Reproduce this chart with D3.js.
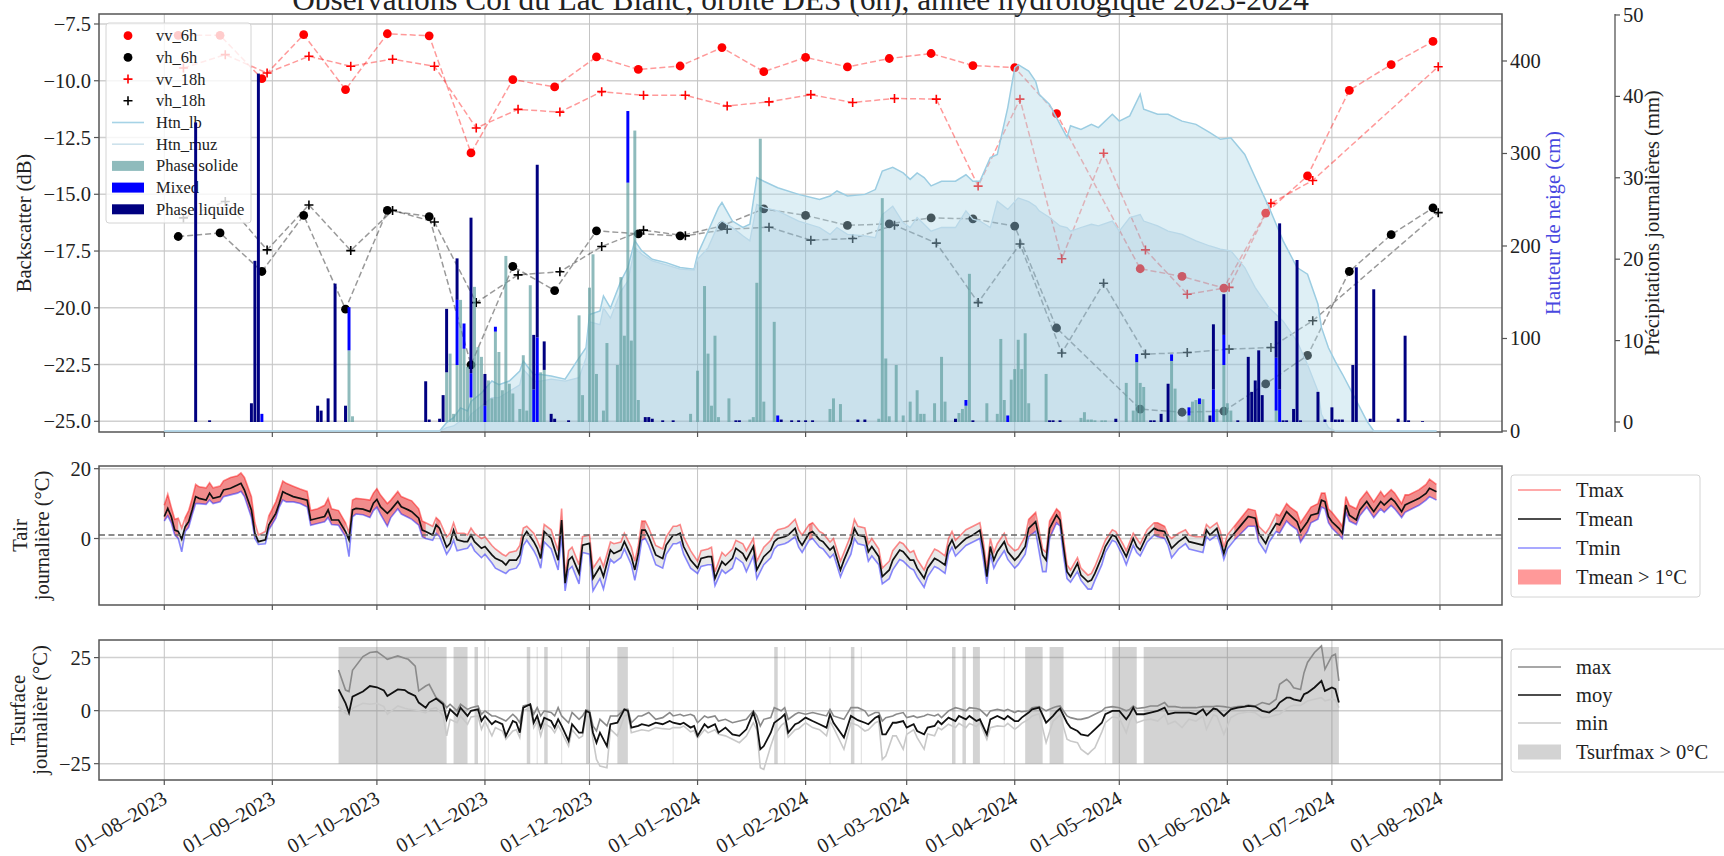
<!DOCTYPE html>
<html>
<head>
<meta charset="utf-8">
<script src="https://cdn.jsdelivr.net/npm/d3@7"></script>
<style>
  html, body { margin: 0; padding: 0; background: #fff; }
  svg { display: block; font-family: "Liberation Serif", "DejaVu Serif", serif; }
</style>
</head>
<body>
<svg id="chart" width="1724" height="856"></svg>
<script>
// ---------------------------------------------------------------------------
// Data: day offsets are counted from 1 August 2023 (hydrological year start)
// ---------------------------------------------------------------------------
const titleText = "Observations Col du Lac Blanc, orbite DES (6h), année hydrologique 2023-2024";

// Sentinel-1 backscatter (dB), morning (6h) and evening (18h) passes
const sarDays6h = [4,16,28,40,52,64,76,88,100,112,124,136,148,160,172,184,196,208,220,232,244,256,280,292,304,316,328,340,352,364];
const vv6h = [-8.0,-8.0,-9.91,-7.97,-10.39,-7.93,-8.02,-13.18,-9.95,-10.27,-8.95,-9.50,-9.35,-8.54,-9.60,-8.97,-9.39,-9.02,-8.80,-9.33,-9.42,-11.45,-18.28,-18.62,-19.13,-15.83,-14.19,-10.42,-9.29,-8.27];
const vh6h = [-16.86,-16.70,-18.40,-15.93,-20.06,-15.71,-15.98,-22.51,-18.18,-19.24,-16.61,-16.74,-16.83,-16.39,-15.64,-15.93,-16.37,-16.30,-16.04,-16.08,-16.40,-20.89,-24.46,-24.60,-24.55,-23.35,-22.10,-18.40,-16.78,-15.60];
const sarDays18h = [5.5,17.5,29.5,41.5,53.5,65.5,77.5,89.5,101.5,113.5,125.5,137.5,149.5,161.5,173.5,185.5,197.5,209.5,221.5,233.5,245.5,257.5,269.5,281.5,293.5,305.5,317.5,329.5,365.5];
const vv18h = [-9.44,-8.85,-9.66,-8.92,-9.36,-9.05,-9.36,-12.08,-11.26,-11.38,-10.48,-10.64,-10.64,-11.11,-10.93,-10.61,-10.96,-10.78,-10.81,-14.64,-10.81,-17.84,-13.19,-17.45,-19.40,-19.10,-15.40,-14.39,-9.38];
const vh18h = [-16.04,-15.32,-17.45,-15.47,-17.48,-15.71,-16.22,-19.77,-18.55,-18.41,-17.30,-16.58,-16.83,-16.54,-16.45,-17.02,-16.95,-16.36,-17.15,-19.77,-17.19,-21.99,-18.92,-22.04,-21.97,-21.82,-21.75,-20.57,-15.81];

// Snow depth (cm): [day, Htn_lb, Htn_muz]
const snowDepth = [
  [0,0,0],[79,0,0],[81,9,3.6],[83,14.4,5.4],[85,25,11],[87,21.6,11],[88,32,18],[91,41,27],[94,54,36],[96,50,36],
  [99,54,43],[102,64.8,50],[103,75.6,66.6],[106,61,54],[108,61,54],[111,59.5,56],[115,56,54],[119,79,57.7],[121,90,79],[122,126,118],
  [125,129.7,115],[126,146,133],[128,133,122],[131,162,151],[133,176.7,162],[135,205.6,198.4],[137,194.8,191],[140,185.7,184],[144,182,179.5],[148,176.7,175],
  [152,175,174],[153,191,185.7],[156,216,198],[159,241.5,223.5],[160,247,227],[163,227,220],[166,220,211],[168,223.5,205.6],[170,274,245],[172,270,241.5],
  [176,263,238],[182,255.8,227],[188,250.4,220],[191,254,212.6],[193,259.5,220],[196,254,212.6],[201,255.8,211],[204,261,209],[206,281,234],[209,285,243],
  [212,279,225],[214,272,220],[216,279,230.8],[218,274,223.5],[220,265,216],[223,270,220],[227,270,220],[230,277,238],[232,270,229],[234,270,227],
  [237,295.6,220],[239,299,248.5],[242,349.6,239.6],[244,392.8,248],[245,396,252],[248,389,248],[250,378,243],[251,364,238],[254,353,230.8],[257,331.5,221.7],
  [259,317.6,220],[260,330,216],[263,326,220],[266,331.5,223.5],[268,328,221.7],[272,342.4,227],[274,335,216],[277,340.6,230.8],[280,364,234],[281,347.8,227],
  [285,342.4,221.7],[288,342.4,216],[292,335,212.6],[296,331.5,205.6],[300,322.5,200],[303,315.3,196.6],[306,317,194.8],[310,299,176.7],[313,274,155],[317,241.5,133],
  [321,205.6,118.7],[325,176.7,97],[328,169.5,72],[331,137,43],[332,112,18],[334,90,3.6],[336,75,0],[338,61.6,0],[342,32.8,0],[345,11,0],
  [347,0,0],[365,0,0]
];

// Daily precipitation (mm): [day, solid, mixed, liquid]
const precipitation = [
  [9,0,0,36.8],[13,0,0,0.2],[25,0,0,2.3],[26,0,0,19.8],[27,0,0,42.8],[28,0,1.0,0],[44,0,0,2.0],[45,0,0,1.4],[47,0,0,2.9],[49,0,0,17.0],
  [52,0,0,2.0],[53,8.8,5.3,0],[54,0.7,0,0],[75,0,0,5.0],[76,0,0,0.3],[79,0,0,0.4],[80,0,0,3.3],[81,6.1,0,7.8],[82,8.4,0,0],[83,1.0,0,0],
  [84,7,8,5.1],[85,15,0,0],[86,9,3.1,0],[87,6.8,0,0],[88,3,3,19.1],[89,16.6,0,0],[90,9.2,0,0],[91,8,0,0],[92,0,2,3.9],[93,5.1,0,0],
  [94,2.9,0,0],[95,11.1,0.6,0],[96,8.6,0,0],[97,3.9,0,0],[98,20.4,0,0],[99,4.7,0,0],[100,3.5,0,0],[102,1.6,0,0],[103,8.2,0,0],[104,1.4,0,0],
  [105,16.8,0,0],[106,0,4,6.7],[107,0,10.4,21.2],[108,6.1,0,0],[109,6.4,0,3.5],[111,0,0,1.0],[112,0,0,0.4],[116,0,0,0.2],[119,13.1,0,0],[120,3.3,0,0],
  [122,16.5,0,0],[123,20.6,0,0],[124,5.9,0,0],[126,1.4,0,0],[127,9.7,0,0],[130,7,0,0],[131,17.8,0,0],[132,10.6,0,0],[133,29.4,8.8,0],[134,10,0,0],
  [135,35.8,0,0],[136,2.7,0,0],[138,0,0,0.6],[139,0,0,0.6],[140,0,0,0.4],[143,0,0,0.2],[146,0,0,0.2],[151,1.0,0,0],[153,6.3,0,0],[155,16.7,0,0],
  [156,8.4,0,0],[157,2.0,0,0],[158,10.6,0,0],[159,0.6,0,0],[162,2.9,0,0],[164,0,0,0.2],[165,0,0,0.2],[168,0.3,0,0],[169,0.6,0,0],[170,17.1,0,0],
  [171,34.8,0,0],[172,2.5,0,0],[175,12.3,0,0],[176,0,0.8,0],[177,0,0,0.3],[180,0,0,0.2],[182,0,0,0.2],[184,0,0,0.2],[186,0,0,0.2],[191,1.6,0,0],
  [192,2.9,0,0],[194,2.2,0,0],[199,0,0,0.3],[201,0,0,0.3],[205,0.4,0,0],[206,27.5,0,0],[207,7.8,0,0],[208,0.7,0,0],[210,7,0,0],[212,0.8,0,0],
  [214,2.5,0,0],[216,3.9,0,0],[217,1,0,0],[218,1,0,0],[221,2.3,0,0],[223,8,0,0],[224,2.5,0,0],[227,0,0,0.4],[228,1.1,0,0],[229,1.6,0,0],
  [230,2.0,0.7,0],[231,18.2,0,0],[232,0,0,0.2],[236,2.3,0,0],[239,1,0,0],[240,10.2,0,0],[241,2.7,0,0],[242,0,0.8,0],[243,5.2,0,0],[244,6.5,0,0],
  [245,10.1,0,0],[246,6.5,0,0],[247,10.9,0,0],[248,2.3,0,0],[253,5.9,0,0],[254,0,0,0.2],[255,0,0,0.2],[257,0,0,0.2],[263,0.5,0,0],[264,1.2,0,0],
  [265,0.3,0,0],[266,0.3,0,0],[267,0.2,0,0],[269,0.2,0,0],[270,0.2,0,0],[273,0,0,0.4],[276,4.8,0,0],[278,1.4,0,0],[279,7.35,1,0],[280,4.8,0,0],
  [281,4.3,0,0],[283,0,0,0.2],[284,0,0,0.2],[286,0,0,1.0],[288,0,0,4.7],[289,7.5,0.8,0],[290,4.1,0,0],[294,0.8,1.0,0],[295,2.5,0,0],[296,2.7,0,0],
  [297,2.2,0.7,0],[298,2.8,0,0],[300,0,0,0.8],[301,0,4,8],[302,1.6,0,0],[304,7,3.7,5],[305,2.3,0,0],[306,1.4,0,0],[308,0,0,0.2],[311,0,0,8],
  [312,0,0,3.7],[313,0,0,5.1],[314,0,0,8.8],[315,0,0,3.3],[319,1.4,6.5,4.5],[320,0,4,20.4],[321,0,0,0.2],[322,0,0,0.2],[324,0,0,1.6],[325,0,0,19.9],
  [326,0,0,0.2],[331,0,0,3.7],[333,0,0,0.3],[335,0,0,1.8],[336,0,0,0.3],[337,0,0,0.3],[338,0,0,0.3],[341,0,0,7],[342,0,0,19.0],[346,0,0,0.4],
  [347,0,0,16.3],[354,0,0,0.4],[356,0,0,10.6],[357,0,0,0.2],[361,0,0,0.1]
];

// Daily air temperature (°C): [day, Tmax, Tmean, Tmin]
const airTemp = [
  [0,9.5,6.3,5.0],[1,12.7,8.6,6.5],[2,9.0,6.3,4.5],[3,5.5,2.4,1.0],[4,5.8,2.0,0.0],[5,3.0,-0.2,-3.8],[6,6.0,3.4,2.0],[7,8.0,4.8,3.2],[8,11.5,8.2,6.8],[9,15.5,12.0,10.0],
  [10,14.8,11.5,10.0],[12,14.5,11.0,9.8],[13,16.0,13.0,11.0],[14,14.5,11.5,10.0],[16,15.0,12.0,10.5],[17,16.5,13.9,12.0],[19,17.5,14.4,12.5],[21,18.0,15.3,13.0],[22,18.8,15.8,13.5],[23,17.5,13.9,12.0],
  [25,12.0,8.2,6.0],[26,4.5,1.5,0.0],[27,1.0,-0.9,-1.7],[29,2.0,-0.4,-1.5],[30,6.5,3.9,2.5],[32,10.5,7.2,5.8],[33,13.5,10.1,9.0],[34,16.5,13.4,11.0],[35,15.8,12.9,10.5],[37,15.0,12.0,10.5],
  [39,14.2,11.5,10.0],[41,13.5,11.0,9.0],[42,8.0,5.3,3.8],[44,8.5,5.8,4.3],[46,9.5,6.3,4.8],[47,11.5,8.2,6.0],[48,8.5,5.3,4.0],[50,8.0,5.3,3.8],[52,4.5,2.0,0.5],[53,1.5,-0.4,-5.2],
  [54,11.0,8.2,6.2],[55,11.5,8.6,7.0],[57,11.3,8.4,6.8],[59,11.0,7.7,6.0],[60,13.0,10.1,8.0],[61,14.3,11.2,9.0],[62,12.5,9.1,7.0],[64,10.0,7.2,3.5],[65,11.0,8.2,6.0],[67,13.5,10.6,8.5],
  [68,12.0,9.1,7.0],[70,11.2,8.2,6.0],[71,10.8,7.7,5.5],[73,8.5,5.8,3.8],[74,5.0,2.4,0.5],[75,4.5,2.0,0.0],[77,3.5,1.0,-0.5],[78,6.0,3.9,1.5],[79,5.0,2.9,0.5],[81,0.5,-2.5,-4.5],
  [82,1.5,-1.4,-3.0],[83,4.5,2.4,-0.5],[84,1.5,-0.4,-3.5],[86,1.5,-0.9,-3.0],[87,1.0,-0.9,-2.8],[88,3.0,1.0,-1.5],[89,1.5,-0.9,-3.5],[91,0.0,-2.8,-5.5],[92,0.5,-2.3,-4.5],[94,-2.0,-4.7,-7.0],
  [95,-3.0,-5.7,-8.5],[97,-4.5,-6.6,-9.5],[98,-5.0,-7.6,-10.0],[99,-4.0,-6.2,-9.0],[101,-3.5,-6.2,-8.5],[102,-2.0,-4.7,-7.0],[103,3.0,0.5,-2.0],[104,3.5,2.0,-0.5],[106,1.5,-0.9,-3.5],[107,-0.5,-2.8,-5.5],
  [108,-3.0,-5.7,-8.5],[109,4.0,2.0,-1.0],[111,2.5,0.0,-3.0],[113,-3.5,-6.2,-9.0],[114,8.6,5.3,1.0],[115,-10.5,-12.8,-15.0],[116,-3.5,-6.2,-9.0],[117,-2.5,-5.2,-8.0],[119,-7.5,-10.0,-13.0],[120,0.5,-1.9,-4.0],
  [122,1.0,-1.4,-4.5],[123,-8.5,-11.4,-15.0],[125,-5.5,-8.1,-11.5],[126,-8.0,-10.9,-14.5],[128,-1.0,-3.3,-6.0],[129,-1.5,-4.3,-7.0],[131,-1.0,-3.3,-5.5],[132,1.5,-0.9,-3.0],[134,-2.5,-5.2,-7.5],[135,-6.5,-9.0,-12.0],
  [136,-2.0,-4.3,-7.0],[137,5.0,2.4,-0.5],[138,5.0,2.4,0.0],[139,3.0,0.5,-2.0],[141,-2.0,-4.7,-7.5],[143,-3.0,-5.7,-8.5],[144,0.5,-1.9,-4.5],[146,3.5,1.0,-1.5],[147,3.5,1.0,-1.5],[148,4.0,1.5,-1.0],
  [149,0.5,-2.3,-4.5],[151,-3.5,-6.2,-8.5],[153,-6.5,-8.5,-10.0],[154,-3.5,-5.7,-8.0],[156,-3.0,-5.2,-7.5],[157,-2.5,-5.2,-7.5],[158,-9.5,-11.4,-13.5],[160,-4.0,-6.6,-9.0],[161,-5.0,-7.6,-10.0],[163,-3.0,-5.7,-8.5],
  [164,-0.5,-2.8,-5.5],[166,-1.5,-4.3,-7.0],[167,-3.5,-6.2,-9.5],[169,0.0,-2.3,-5.0],[170,-6.5,-9.0,-11.5],[172,-2.5,-5.2,-7.5],[174,-0.5,-3.3,-5.5],[175,1.5,-0.9,-3.0],[176,2.5,0.0,-2.0],[178,3.0,0.5,-1.5],
  [179,3.5,1.0,-1.0],[181,5.5,2.9,0.5],[182,2.5,-0.4,-2.5],[183,1.0,-1.9,-4.0],[185,4.0,1.5,-0.5],[186,4.5,2.0,0.0],[188,2.0,-0.4,-2.5],[189,1.5,-0.9,-3.0],[191,-1.0,-3.3,-5.5],[192,0.0,-2.3,-4.5],
  [194,-6.5,-9.0,-11.0],[195,-4.0,-6.2,-8.5],[197,1.0,-1.4,-4.5],[198,5.5,2.9,0.0],[199,3.5,1.0,-1.5],[201,3.0,0.5,-2.0],[202,-1.5,-3.8,-6.5],[203,0.0,-2.3,-5.0],[205,-3.0,-5.2,-7.5],[206,-8.5,-10.9,-13.0],
  [208,-6.5,-9.0,-11.5],[209,-3.5,-6.2,-9.0],[211,-1.0,-3.3,-6.0],[212,-1.5,-3.8,-6.5],[214,-4.0,-6.2,-8.5],[215,-3.5,-6.2,-9.0],[216,-6.0,-8.5,-11.0],[218,-9.0,-11.4,-14.0],[219,-6.5,-8.5,-11.0],[221,-3.0,-5.7,-8.0],
  [222,-3.5,-6.2,-8.5],[224,-5.0,-7.6,-10.0],[225,0.0,-2.3,-4.5],[226,2.0,-0.4,-2.5],[227,-0.5,-2.8,-5.0],[229,1.5,-0.9,-3.0],[230,2.5,0.0,-2.0],[232,3.5,1.0,-1.0],[234,4.5,2.4,0.0],[235,-1.0,-3.3,-6.0],
  [236,-8.5,-10.9,-13.0],[237,0.0,-2.3,-4.5],[238,-4.0,-6.2,-8.5],[239,-1.5,-3.8,-6.5],[241,1.5,-0.9,-3.5],[242,-1.5,-3.8,-6.0],[244,-3.5,-6.2,-8.5],[245,-3.0,-5.2,-7.5],[247,0.5,-2.3,-4.5],[248,5.5,2.9,0.5],
  [250,7.5,4.8,2.0],[252,-3.0,-4.7,-9.5],[253,-4.0,-6.2,-9.5],[254,5.0,2.9,0.0],[256,8.5,6.7,4.5],[257,7.5,5.3,3.5],[258,0.0,-2.3,-5.0],[259,-7.5,-9.5,-11.5],[260,-9.0,-10.9,-12.5],[262,-5.5,-7.1,-9.5],
  [263,-8.5,-10.5,-12.0],[265,-10.5,-12.4,-14.5],[266,-10.0,-11.9,-14.5],[267,-8.0,-10.0,-12.0],[269,-3.0,-5.2,-7.5],[270,-0.5,-2.3,-4.0],[272,2.5,1.0,-0.5],[273,2.0,0.5,-1.0],[275,-1.5,-3.3,-5.0],[276,-3.5,-5.2,-7.5],
  [278,1.5,0.0,-2.0],[279,0.0,-2.3,-4.0],[280,-1.5,-3.3,-5.0],[282,2.5,1.0,-1.0],[284,4.5,2.9,1.0],[285,4.5,2.4,0.5],[287,3.5,2.0,0.0],[288,1.0,-0.4,-2.0],[289,0.0,-2.8,-5.5],[291,1.5,-0.9,-3.0],
  [293,2.5,0.5,-1.5],[294,1.0,-0.9,-3.0],[296,0.5,-1.4,-3.5],[298,0.5,-1.9,-4.0],[299,4.0,2.4,0.5],[300,3.0,1.0,-0.5],[302,4.5,2.9,1.0],[303,2.0,-0.4,-2.0],[304,-2.5,-4.3,-6.0],[305,1.0,-0.9,-3.0],
  [307,3.5,1.5,-0.5],[309,6.0,3.9,1.5],[311,8.5,6.3,3.5],[313,8.0,5.8,3.5],[314,3.5,1.5,-1.0],[316,1.5,-1.4,-4.0],[317,3.0,1.0,-1.0],[319,7.0,4.3,2.0],[320,6.5,3.9,1.5],[322,10.0,7.7,5.0],
  [323,9.0,6.7,4.0],[325,7.5,4.8,2.5],[326,4.5,2.0,-1.0],[328,7.5,4.8,2.0],[329,9.0,6.7,4.5],[331,10.0,7.2,5.5],[332,13.0,11.0,9.0],[333,13.0,10.6,8.5],[334,8.5,6.3,4.5],[335,7.5,4.8,3.0],
  [337,5.0,2.9,1.0],[338,3.5,1.5,0.0],[339,12.0,9.6,7.5],[340,9.5,6.7,5.0],[342,8.5,5.3,4.0],[343,11.0,8.2,6.5],[345,13.5,10.6,9.0],[346,12.0,9.1,7.5],[347,10.5,7.7,6.0],[349,13.5,10.6,8.5],
  [350,12.0,9.6,7.5],[352,14.0,11.5,9.5],[353,13.0,10.6,8.5],[355,10.0,7.7,6.0],[356,12.5,9.6,7.5],[357,12.5,10.1,8.0],[359,13.5,11.0,9.0],[360,14.0,11.5,9.5],[362,15.5,12.9,11.0],[363,17.0,14.4,12.0],
  [365,15.5,13.4,11.0]
];

// Daily surface temperature (°C): [day, max, moy, min]
const surfTemp = [
  [50,19.2,10.0,1.9],[52,9.7,3.5,-1.3],[53,9.0,-1.0,-2.0],[54,19.0,6.6,1.1],[57,25.5,9.0,3.5],[59,27.4,11.6,3.0],[61,27.8,11.0,3.5],[63,25.5,9.5,1.9],[64,24.2,6.9,-1.7],[67,25.8,10.0,2.2],
  [69,24.7,9.7,1.1],[70,24.2,8.5,0.8],[72,21.0,6.9,0.3],[73,9.3,3.8,-0.1],[75,11.6,1.4,-1.0],[76,12.4,3.8,0.5],[78,6.1,5.7,1.4],[80,3.8,3.0,-2.5],[81,1.4,-4.1,-11.9],[82,3.0,0.6,-4.1],
  [84,-0.1,-2.5,-5.7],[85,3.0,1.4,-2.5],[87,0.6,-2.5,-6.4],[88,1.4,-0.1,-3.0],[90,2.2,0.6,-2.5],[91,-1.7,-4.9,-8.8],[92,-0.1,-2.5,-5.0],[94,-2.5,-6.4,-11.9],[95,-2.5,-4.9,-8.0],[97,-4.1,-6.4,-9.6],
  [98,-4.9,-11.9,-13.5],[100,-1.7,-4.9,-9.6],[101,-3.3,-5.7,-9.0],[102,-5.7,-10.4,-12.7],[103,2.2,1.4,-0.1],[105,3.0,3.0,1.4],[106,-1.7,-5.7,-8.0],[107,1.4,-2.5,-5.0],[108,-2.5,-8.0,-11.9],[109,-0.1,-3.3,-6.0],
  [111,-0.9,-4.9,-8.0],[112,-2.5,-8.0,-10.4],[113,1.4,-4.1,-7.0],[114,-2.5,-7.2,-10.0],[116,-5.7,-14.3,-16.7],[117,-0.9,-6.4,-9.0],[119,-4.1,-10.4,-13.0],[120,-2.5,-10.4,-12.0],[121,0.3,-0.1,-2.5],[122,-0.1,-0.9,-3.0],
  [123,-7.2,-10.4,-13.5],[124,-9.6,-15.1,-23.0],[125,-4.1,-10.4,-26.1],[127,-7.2,-16.7,-26.9],[128,-2.5,-6.4,-8.8],[130,-2.5,-5.7,-11.9],[132,0.6,0.6,-2.5],[133,0.6,-0.1,-2.0],[134,-5.7,-8.0,-10.4],[136,-2.5,-7.2,-9.5],
  [137,-2.5,-6.4,-9.0],[139,-0.9,-7.2,-9.6],[141,-4.1,-5.7,-8.0],[143,-3.3,-6.4,-8.5],[145,-0.9,-4.9,-8.8],[146,-2.5,-5.7,-8.0],[148,-1.7,-6.4,-8.0],[149,-2.5,-5.7,-7.2],[151,-1.7,-8.0,-10.0],[152,-2.5,-7.2,-9.5],
  [153,-5.7,-11.9,-13.0],[155,-2.5,-6.4,-9.0],[156,-3.3,-8.0,-10.5],[158,-2.5,-6.4,-9.0],[159,-4.9,-10.4,-11.2],[161,-4.1,-8.0,-11.9],[163,-5.7,-11.2,-13.5],[165,-4.9,-11.9,-15.1],[167,-4.1,-8.8,-12.0],[169,-0.1,-0.9,-5.7],
  [170,-2.5,-6.4,-9.0],[171,-7.2,-18.2,-26.9],[172,-4.1,-16.7,-27.7],[174,-3.3,-10.4,-16.7],[175,1.4,-5.7,-11.9],[177,-0.1,-3.3,-7.0],[178,1.4,-1.7,-5.7],[179,-4.1,-10.4,-12.5],[181,-1.7,-6.4,-9.0],[182,-0.9,-5.7,-8.5],
  [184,-1.7,-3.3,-5.7],[186,-0.9,-4.9,-8.0],[188,-1.7,-6.4,-9.0],[190,-2.5,-8.0,-11.9],[191,0.6,-1.7,-5.0],[192,-2.5,-5.7,-8.0],[195,-4.1,-12.7,-18.2],[197,1.4,-2.5,-5.7],[199,1.4,-4.5,-7.0],[201,-0.1,-5.7,-9.6],
  [202,-2.5,-6.4,-9.0],[204,-0.9,-3.3,-5.7],[205,-0.9,-2.5,-5.0],[206,-4.9,-11.2,-23.0],[207,-3.3,-11.2,-21.4],[209,-2.5,-5.7,-11.9],[210,-1.7,-5.7,-11.9],[212,-0.9,-4.9,-18.2],[213,-3.3,-8.0,-11.2],[215,-2.5,-6.4,-9.0],
  [216,-3.3,-9.6,-12.7],[218,-2.5,-11.2,-18.2],[219,-1.7,-8.0,-11.0],[221,-2.5,-7.2,-11.9],[222,-1.7,-4.9,-8.0],[223,-3.3,-6.4,-9.0],[225,-0.1,-3.3,-6.4],[227,1.4,-4.9,-8.0],[228,1.0,-2.5,-6.0],[230,-0.1,-4.1,-8.0],
  [231,1.4,-2.5,-6.0],[233,1.0,-4.9,-7.5],[234,0.6,-4.1,-5.7],[236,-2.5,-11.2,-13.5],[237,-0.1,-4.1,-8.0],[239,0.6,-2.5,-7.2],[241,-0.1,-4.1,-7.5],[242,0.6,-2.5,-6.0],[244,-0.9,-4.9,-8.8],[245,-0.1,-4.9,-7.5],
  [246,-0.5,-3.3,-6.0],[248,-0.1,-0.9,-4.0],[249,1.4,0.6,-2.5],[251,1.9,1.4,-1.5],[253,-0.1,-5.7,-15.1],[255,1.4,-2.5,-5.0],[256,1.9,-0.5,-3.5],[257,2.2,1.0,-2.0],[259,-2.5,-5.7,-13.5],[260,-3.3,-8.0,-14.3],
  [262,-4.1,-9.6,-15.1],[263,-4.1,-11.2,-18.2],[265,-3.3,-11.9,-20.6],[266,-2.5,-10.4,-19.0],[267,-1.7,-8.8,-17.5],[269,-0.1,-5.7,-10.0],[270,1.4,-1.7,-5.7],[272,1.9,-0.1,-3.0],[274,1.4,-0.1,-3.5],[276,-0.1,-4.1,-10.4],
  [277,0.6,-1.7,-5.0],[278,2.2,1.4,-1.5],[279,1.0,-1.7,-5.7],[281,1.4,-1.7,-4.5],[283,2.2,-0.9,-4.0],[285,2.2,-0.1,-4.9],[287,3.8,1.4,-2.0],[288,1.9,-1.7,-6.4],[290,1.9,-0.9,-5.0],[292,1.4,-0.9,-8.0],
  [294,1.4,-0.9,-4.0],[296,1.4,-1.7,-4.9],[298,1.9,0.6,-2.5],[299,1.9,-2.1,-8.8],[301,1.9,1.0,-2.0],[302,2.2,0.6,-2.5],[304,1.9,-2.5,-11.2],[306,1.4,0.6,-3.3],[308,1.9,1.4,-1.5],[310,2.2,1.9,-0.9],
  [311,2.6,2.2,-0.5],[313,2.2,1.9,-1.0],[315,3.8,-0.1,-3.3],[317,3.0,-0.9,-3.0],[319,5.4,1.4,-2.0],[320,12.4,3.8,-1.7],[322,14.8,6.1,1.0],[323,13.2,6.1,2.0],[324,10.8,5.3,2.5],[326,10.0,4.6,2.5],
  [327,17.9,7.7,3.5],[328,22.7,8.5,4.6],[330,27.4,10.9,5.4],[332,30.5,14.0,6.1],[333,19.5,9.3,4.6],[335,25.8,10.9,5.4],[336,26.6,10.1,5.0],[337,14.0,3.8,1.4]
];

// Runs of days with Tsurfmax > 0 °C: [first day, last day]
const warmSurfaceRuns = [
  [50,81],[83,87],[89,90],[93,93],[104,105],[107,107],[109,110],[114,114],[121,122],[130,133],
  [146,146],[175,176],[178,178],[191,191],[197,198],[200,200],[226,227],[229,230],[232,234],[241,241],
  [247,252],[254,258],[270,270],[272,279],[281,337]
];

// Tick values
const bsTicks = [-25, -22.5, -20, -17.5, -15, -12.5, -10, -7.5];
const snowTicks = [0, 100, 200, 300, 400];
const precipTicks = [0, 10, 20, 30, 40, 50];
const tairTicks = [0, 20];
const tsurfTicks = [-25, 0, 25];

// ---------------------------------------------------------------------------
// Layout and scales
// ---------------------------------------------------------------------------
const START = Date.UTC(2023, 7, 1);
const DAY = 86400000;
const toDate = d => new Date(START + d * DAY);

const L = 99, R = 1502;
const TOP = { y0: 14, y1: 432 };
const MID = { y0: 466, y1: 605 };
const BOT = { y0: 640, y1: 780 };

const x = d3.scaleUtc().domain([toDate(-18.73), toDate(383.8)]).range([L, R]);
const yBs = d3.scaleLinear().domain([-25.47, -7.06]).range([TOP.y1, TOP.y0]);
const ySnow = d3.scaleLinear().domain([0, 450.8]).range([431, TOP.y0]);
const yPr = d3.scaleLinear().domain([-1.23, 50.12]).range([TOP.y1, TOP.y0]);
const yTa = d3.scaleLinear().domain([-19.05, 20.77]).range([MID.y1, MID.y0]);
const yTs = d3.scaleLinear().domain([-32.7, 33.3]).range([BOT.y1, BOT.y0]);

const months = d3.utcMonth.range(toDate(0), toDate(366.5));
const fmtDate = d3.utcFormat("%d–%m–%Y");

const TXT = "#222";
const SPINE = "#555";
const GRID_H = "#d0d0d0";
const GRID_V = "#c4c4c4";
const FS_TICK = 20.5;

const svg = d3.select("#chart");
const defs = svg.append("defs");
function makeClip(id, p) {
  defs.append("clipPath").attr("id", id).append("rect")
    .attr("x", L).attr("y", p.y0).attr("width", R - L).attr("height", p.y1 - p.y0);
}
makeClip("clipTop", TOP); makeClip("clipMid", MID); makeClip("clipBot", BOT);

function gridLines(g, p, yScale, ticks) {
  g.append("g").selectAll("line").data(ticks).join("line")
    .attr("x1", L).attr("x2", R)
    .attr("y1", d => yScale(d)).attr("y2", d => yScale(d))
    .attr("stroke", GRID_H).attr("stroke-width", 1.5);
  g.append("g").selectAll("line").data(months).join("line")
    .attr("x1", d => x(d)).attr("x2", d => x(d))
    .attr("y1", p.y0).attr("y2", p.y1)
    .attr("stroke", GRID_V).attr("stroke-width", 1);
}

function frame(g, p) {
  g.append("rect").attr("x", L).attr("y", p.y0).attr("width", R - L).attr("height", p.y1 - p.y0)
    .attr("fill", "none").attr("stroke", SPINE).attr("stroke-width", 1.5);
  g.append("g").selectAll("line").data(months).join("line")
    .attr("x1", d => x(d)).attr("x2", d => x(d))
    .attr("y1", p.y1).attr("y2", p.y1 + 5)
    .attr("stroke", SPINE).attr("stroke-width", 1.2);
}

function leftAxis(g, yScale, ticks, fmt) {
  g.append("g").selectAll("line").data(ticks).join("line")
    .attr("x1", L - 5).attr("x2", L).attr("y1", d => yScale(d)).attr("y2", d => yScale(d))
    .attr("stroke", SPINE).attr("stroke-width", 1.2);
  g.append("g").selectAll("text").data(ticks).join("text")
    .attr("x", L - 8).attr("y", d => yScale(d))
    .attr("text-anchor", "end").attr("dominant-baseline", "central")
    .attr("font-size", FS_TICK).attr("fill", TXT)
    .text(fmt);
}

function vLabel(text, cx, cy, size, color) {
  svg.append("text")
    .attr("transform", `translate(${cx},${cy}) rotate(-90)`)
    .attr("text-anchor", "middle").attr("dominant-baseline", "central")
    .attr("font-size", size).attr("fill", color || TXT)
    .text(text);
}

// ---------------------------------------------------------------------------
// Title
// ---------------------------------------------------------------------------
const title = svg.append("text")
  .attr("x", (L + R) / 2).attr("y", 10)
  .attr("text-anchor", "middle").attr("font-size", 27).attr("fill", TXT)
  .text(titleText);
{
  const w = title.node().getComputedTextLength();
  if (w > 0) title.attr("font-size", 27 * 1017 / w);
}

// ---------------------------------------------------------------------------
// Top panel: backscatter, snow depth, precipitation
// ---------------------------------------------------------------------------
const gTop = svg.append("g");
gridLines(gTop, TOP, yBs, bsTicks);

const topPlot = gTop.append("g").attr("clip-path", "url(#clipTop)");

function sarSeries(days, vals, color, lineOpacity, marker) {
  const pts = days.map((d, i) => [x(toDate(d)), yBs(vals[i])]);
  topPlot.append("path")
    .attr("d", d3.line()(pts))
    .attr("fill", "none").attr("stroke", color).attr("stroke-opacity", lineOpacity)
    .attr("stroke-width", 1.5).attr("stroke-dasharray", "6,3");
  if (marker === "dot") {
    topPlot.append("g").selectAll("circle").data(pts).join("circle")
      .attr("cx", d => d[0]).attr("cy", d => d[1]).attr("r", 4.4).attr("fill", color);
  } else {
    topPlot.append("g").selectAll("path").data(pts).join("path")
      .attr("d", d => `M${d[0] - 4.5},${d[1]}H${d[0] + 4.5}M${d[0]},${d[1] - 4.5}V${d[1] + 4.5}`)
      .attr("stroke", color).attr("stroke-width", 1.6).attr("fill", "none");
  }
}
sarSeries(sarDays6h, vv6h, "#ff0000", 0.4, "dot");
sarSeries(sarDays6h, vh6h, "#000000", 0.4, "dot");
sarSeries(sarDays18h, vv18h, "#ff0000", 0.4, "plus");
sarSeries(sarDays18h, vh18h, "#000000", 0.4, "plus");

// legend of the top panel (sits under the twin-axis layers)
{
  const lg = gTop.append("g");
  lg.append("rect").attr("x", 106).attr("y", 23).attr("width", 145).attr("height", 200)
    .attr("rx", 3).attr("fill", "#fff").attr("fill-opacity", 0.8)
    .attr("stroke", "#d4d4d4").attr("stroke-width", 1);
  const entries = [
    { label: "vv_6h", kind: "dot", color: "#ff0000" },
    { label: "vh_6h", kind: "dot", color: "#000000" },
    { label: "vv_18h", kind: "plus", color: "#ff0000" },
    { label: "vh_18h", kind: "plus", color: "#000000" },
    { label: "Htn_lb", kind: "line", color: "#a6d3e6" },
    { label: "Htn_muz", kind: "line", color: "#cde2ec" },
    { label: "Phase solide", kind: "patch", color: "rgba(95,158,160,0.7)" },
    { label: "Mixed", kind: "patch", color: "#0000ff" },
    { label: "Phase liquide", kind: "patch", color: "#000080" }
  ];
  entries.forEach((e, i) => {
    const cy = 35.7 + i * 21.7;
    if (e.kind === "dot") lg.append("circle").attr("cx", 128).attr("cy", cy).attr("r", 4.4).attr("fill", e.color);
    if (e.kind === "plus") lg.append("path").attr("d", `M123.5,${cy}H132.5M128,${cy - 4.5}V${cy + 4.5}`)
      .attr("stroke", e.color).attr("stroke-width", 1.6);
    if (e.kind === "line") lg.append("line").attr("x1", 112).attr("x2", 144).attr("y1", cy).attr("y2", cy)
      .attr("stroke", e.color).attr("stroke-width", 1.6);
    if (e.kind === "patch") lg.append("rect").attr("x", 112).attr("y", cy - 5).attr("width", 32).attr("height", 10)
      .attr("fill", e.color);
    lg.append("text").attr("x", 156).attr("y", cy).attr("dominant-baseline", "central")
      .attr("font-size", 16.5).attr("fill", TXT).text(e.label);
  });
}

// snow depth (twin axis)
const snowLayer = svg.append("g").attr("clip-path", "url(#clipTop)");
const snowAreaLb = d3.area().x(d => x(toDate(d[0]))).y0(ySnow(0)).y1(d => ySnow(d[1]));
const snowAreaMuz = d3.area().x(d => x(toDate(d[0]))).y0(ySnow(0)).y1(d => ySnow(d[2]));
snowLayer.append("path").attr("d", snowAreaLb(snowDepth)).attr("fill", "#add8e6").attr("fill-opacity", 0.4);
snowLayer.append("path").attr("d", d3.line().x(d => x(toDate(d[0]))).y(d => ySnow(d[1]))(snowDepth))
  .attr("fill", "none").attr("stroke", "#9ccde2").attr("stroke-width", 1.5);
snowLayer.append("path").attr("d", snowAreaMuz(snowDepth)).attr("fill", "#4682b4").attr("fill-opacity", 0.13);
snowLayer.append("path").attr("d", d3.line().x(d => x(toDate(d[0]))).y(d => ySnow(d[2]))(snowDepth))
  .attr("fill", "none").attr("stroke", "#b9d8e8").attr("stroke-width", 1.3);

// precipitation bars (third axis), stacked solid / mixed / liquid
const precipLayer = svg.append("g").attr("clip-path", "url(#clipTop)");
const barW = 0.85 * (x(toDate(1)) - x(toDate(0)));
const phaseColors = ["rgba(95,158,160,0.7)", "#0000ff", "#000080"];
precipitation.forEach(row => {
  let base = 0;
  for (let k = 0; k < 3; k++) {
    const v = row[k + 1];
    if (v > 0) {
      precipLayer.append("rect")
        .attr("x", x(toDate(row[0])) - barW / 2).attr("width", barW)
        .attr("y", yPr(base + v)).attr("height", yPr(base) - yPr(base + v))
        .attr("fill", phaseColors[k]);
      base += v;
    }
  }
});

frame(gTop, TOP);
leftAxis(gTop, yBs, bsTicks, d3.format(".1f"));

// right axis: snow depth
svg.append("g").selectAll("line").data(snowTicks).join("line")
  .attr("x1", R).attr("x2", R + 5).attr("y1", d => ySnow(d)).attr("y2", d => ySnow(d))
  .attr("stroke", SPINE).attr("stroke-width", 1.2);
svg.append("g").selectAll("text").data(snowTicks).join("text")
  .attr("x", R + 8).attr("y", d => ySnow(d)).attr("dominant-baseline", "central")
  .attr("font-size", FS_TICK).attr("fill", TXT).text(d => d);

// offset right axis: precipitation
const PX = 1615;
svg.append("line").attr("x1", PX).attr("x2", PX).attr("y1", TOP.y0).attr("y2", TOP.y1)
  .attr("stroke", SPINE).attr("stroke-width", 1.3);
svg.append("g").selectAll("line").data(precipTicks).join("line")
  .attr("x1", PX).attr("x2", PX + 5).attr("y1", d => yPr(d)).attr("y2", d => yPr(d))
  .attr("stroke", SPINE).attr("stroke-width", 1.2);
svg.append("g").selectAll("text").data(precipTicks).join("text")
  .attr("x", PX + 8).attr("y", d => yPr(d)).attr("dominant-baseline", "central")
  .attr("font-size", FS_TICK).attr("fill", TXT).text(d => d);

vLabel("Backscatter (dB)", 24, (TOP.y0 + TOP.y1) / 2, 20.5);
vLabel("Hauteur de neige (cm)", 1553, (TOP.y0 + TOP.y1) / 2, 20.5, "#4848e0");
vLabel("Précipitations journalières (mm)", 1652, (TOP.y0 + TOP.y1) / 2, 20.5);

// ---------------------------------------------------------------------------
// Middle panel: air temperature
// ---------------------------------------------------------------------------
const gMid = svg.append("g");
gridLines(gMid, MID, yTa, tairTicks);
const midPlot = gMid.append("g").attr("clip-path", "url(#clipMid)");
const xa = d => x(toDate(d[0]));
midPlot.append("path")
  .attr("d", d3.area().x(xa).y0(d => yTa(d[3])).y1(d => yTa(d[1]))(airTemp))
  .attr("fill", "#d3d3d3").attr("fill-opacity", 0.5);
midPlot.append("path")
  .attr("d", d3.area().defined(d => d[2] > 1).x(xa).y0(d => yTa(d[3])).y1(d => yTa(d[1]))(airTemp))
  .attr("fill", "#ff0000").attr("fill-opacity", 0.4);
midPlot.append("path").attr("d", d3.line().x(xa).y(d => yTa(d[1]))(airTemp))
  .attr("fill", "none").attr("stroke", "#ff0000").attr("stroke-opacity", 0.45).attr("stroke-width", 1.6);
midPlot.append("path").attr("d", d3.line().x(xa).y(d => yTa(d[3]))(airTemp))
  .attr("fill", "none").attr("stroke", "#0000ff").attr("stroke-opacity", 0.45).attr("stroke-width", 1.6);
midPlot.append("path").attr("d", d3.line().x(xa).y(d => yTa(d[2]))(airTemp))
  .attr("fill", "none").attr("stroke", "#111").attr("stroke-width", 1.7);
midPlot.append("line").attr("x1", L).attr("x2", R).attr("y1", yTa(1)).attr("y2", yTa(1))
  .attr("stroke", "#666").attr("stroke-width", 1.4).attr("stroke-dasharray", "6,3.5");
frame(gMid, MID);
leftAxis(gMid, yTa, tairTicks, d3.format("d"));
vLabel("Tair", 20, (MID.y0 + MID.y1) / 2, 20.5);
vLabel("journalière (°C)", 42, (MID.y0 + MID.y1) / 2, 20.5);

// ---------------------------------------------------------------------------
// Bottom panel: surface temperature
// ---------------------------------------------------------------------------
const gBot = svg.append("g");
gridLines(gBot, BOT, yTs, tsurfTicks);
const botPlot = gBot.append("g").attr("clip-path", "url(#clipBot)");
warmSurfaceRuns.forEach(r => {
  const x0 = x(toDate(r[0])), x1 = x(toDate(r[1]));
  if (r[1] > r[0]) {
    botPlot.append("rect").attr("x", x0).attr("width", x1 - x0)
      .attr("y", yTs(30)).attr("height", yTs(-25) - yTs(30))
      .attr("fill", "#808080").attr("fill-opacity", 0.35);
  } else {
    botPlot.append("line").attr("x1", x0).attr("x2", x0).attr("y1", yTs(30)).attr("y2", yTs(-25))
      .attr("stroke", "#808080").attr("stroke-opacity", 0.22).attr("stroke-width", 1.2);
  }
});
const xs = d => x(toDate(d[0]));
botPlot.append("path").attr("d", d3.line().x(xs).y(d => yTs(d[3]))(surfTemp))
  .attr("fill", "none").attr("stroke", "#c9c9c9").attr("stroke-width", 1.6);
botPlot.append("path").attr("d", d3.line().x(xs).y(d => yTs(d[1]))(surfTemp))
  .attr("fill", "none").attr("stroke", "#8a8a8a").attr("stroke-width", 1.6);
botPlot.append("path").attr("d", d3.line().x(xs).y(d => yTs(d[2]))(surfTemp))
  .attr("fill", "none").attr("stroke", "#111").attr("stroke-width", 1.8);
frame(gBot, BOT);
leftAxis(gBot, yTs, tsurfTicks, d3.format("d"));
vLabel("Tsurface", 18, (BOT.y0 + BOT.y1) / 2, 20.5);
vLabel("journalière (°C)", 40, (BOT.y0 + BOT.y1) / 2, 20.5);

// date labels
svg.append("g").selectAll("text").data(months).join("text")
  .attr("transform", d => `translate(${x(d) - 3},${BOT.y1 + 10}) rotate(-30)`)
  .attr("text-anchor", "end").attr("dy", "0.7em")
  .attr("font-size", 20.5).attr("fill", TXT)
  .text(d => fmtDate(d));

// ---------------------------------------------------------------------------
// Legends of the lower panels
// ---------------------------------------------------------------------------
function sideLegend(y0, h, w, items) {
  const g = svg.append("g");
  g.append("rect").attr("x", 1511).attr("y", y0).attr("width", w).attr("height", h)
    .attr("rx", 3).attr("fill", "#fff").attr("stroke", "#d4d4d4").attr("stroke-width", 1);
  items.forEach(it => {
    if (it.kind === "line") {
      g.append("line").attr("x1", 1518).attr("x2", 1561).attr("y1", it.y).attr("y2", it.y)
        .attr("stroke", it.color).attr("stroke-width", it.width || 1.7);
    } else {
      g.append("rect").attr("x", 1518).attr("y", it.y - 7.5).attr("width", 43).attr("height", 15)
        .attr("fill", it.color);
    }
    g.append("text").attr("x", 1576).attr("y", it.y).attr("dominant-baseline", "central")
      .attr("font-size", 20.5).attr("fill", TXT).text(it.label);
  });
}
sideLegend(475, 122, 189, [
  { label: "Tmax", kind: "line", color: "rgba(255,0,0,0.45)", y: 490 },
  { label: "Tmean", kind: "line", color: "#111", y: 519 },
  { label: "Tmin", kind: "line", color: "rgba(0,0,255,0.45)", y: 548 },
  { label: "Tmean > 1°C", kind: "patch", color: "rgba(255,0,0,0.4)", y: 577 }
]);
sideLegend(649, 123, 230, [
  { label: "max", kind: "line", color: "#8a8a8a", y: 667 },
  { label: "moy", kind: "line", color: "#111", y: 695 },
  { label: "min", kind: "line", color: "#c9c9c9", y: 723 },
  { label: "Tsurfmax > 0°C", kind: "patch", color: "rgba(128,128,128,0.35)", y: 752 }
]);
</script>
</body>
</html>
